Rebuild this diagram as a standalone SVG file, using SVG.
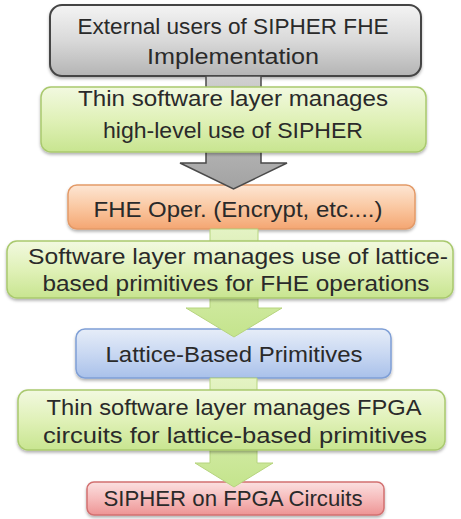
<svg xmlns="http://www.w3.org/2000/svg" width="461" height="519" viewBox="0 0 461 519">
<defs>
<linearGradient id="gGray" x1="0" y1="0" x2="0" y2="1"><stop offset="0" stop-color="#f4f4f4"/><stop offset="0.5" stop-color="#d9d9d9"/><stop offset="1" stop-color="#b4b4b4"/></linearGradient>
<linearGradient id="gGreen" x1="0" y1="0" x2="0" y2="1"><stop offset="0" stop-color="#f2f9e0"/><stop offset="0.5" stop-color="#e0f1b8"/><stop offset="1" stop-color="#c8e590"/></linearGradient>
<linearGradient id="gOrange" x1="0" y1="0" x2="0" y2="1"><stop offset="0" stop-color="#fde6d4"/><stop offset="0.5" stop-color="#fac8a2"/><stop offset="1" stop-color="#f4a672"/></linearGradient>
<linearGradient id="gBlue" x1="0" y1="0" x2="0" y2="1"><stop offset="0" stop-color="#e6edf8"/><stop offset="0.5" stop-color="#c9d8f2"/><stop offset="1" stop-color="#a9c1ea"/></linearGradient>
<linearGradient id="gRed" x1="0" y1="0" x2="0" y2="1"><stop offset="0" stop-color="#fbe0e0"/><stop offset="0.5" stop-color="#f6bcbc"/><stop offset="1" stop-color="#ee9494"/></linearGradient>
<linearGradient id="gArrowGray" x1="0" y1="0" x2="0" y2="1"><stop offset="0" stop-color="#d0d0d0"/><stop offset="1" stop-color="#a2a2a2"/></linearGradient>
<linearGradient id="gArrowGreen" x1="0" y1="0" x2="0" y2="1"><stop offset="0" stop-color="#e4f3c4"/><stop offset="1" stop-color="#c4e48c"/></linearGradient>
<filter id="sh" x="-5%" y="-10%" width="110%" height="130%"><feDropShadow dx="0" dy="2" stdDeviation="1.5" flood-color="#000" flood-opacity="0.3"/></filter>
</defs>
<style>
text{font-family:"Liberation Sans",Arial,sans-serif;font-size:22px;fill:#2a2a2a;text-anchor:middle}
.box{filter:url(#sh)}
.gray{fill:url(#gGray);stroke:#444;stroke-width:2}
.green{fill:url(#gGreen);stroke:#a9c96e;stroke-width:1.5}
.orange{fill:url(#gOrange);stroke:#e39a68;stroke-width:1.5}
.blue{fill:url(#gBlue);stroke:#7f9fd6;stroke-width:1.5}
.red{fill:url(#gRed);stroke:#d27070;stroke-width:1.5}
.agray{fill:url(#gArrowGray);stroke:#4a4a4a;stroke-width:1.5}
.agreen{fill:url(#gArrowGreen);stroke:#b6d47e;stroke-width:1}
</style>
<g id="n1"><rect class="box gray" x="50" y="5" width="371" height="71" rx="12"/>
<text x="233" y="34" textLength="311" lengthAdjust="spacingAndGlyphs">External users of SIPHER FHE</text>
<text x="233" y="64" textLength="172" lengthAdjust="spacingAndGlyphs">Implementation</text></g>
<g id="n3"><rect class="box orange" x="68" y="185" width="347" height="44" rx="9"/>
<text x="238" y="217" textLength="289" lengthAdjust="spacingAndGlyphs">FHE Oper. (Encrypt,  etc....)</text></g>
<g id="n5"><rect class="box blue" x="76" y="329" width="315" height="49" rx="9"/>
<text x="234" y="362" textLength="257" lengthAdjust="spacingAndGlyphs">Lattice-Based Primitives</text></g>
<g id="n7"><rect class="box red" x="87" y="482" width="297" height="33" rx="7"/>
<text x="233" y="506" textLength="259" lengthAdjust="spacingAndGlyphs">SIPHER on FPGA Circuits</text></g>
<g id="connectors">
<path class="agray" d="M206,76 L261,76 L261,163 L287,163 L233.5,189 L180,163 L206,163 Z"/>
<path class="agreen" d="M210,229 L258,229 L258,308 L282,308 L234,337 L186,308 L210,308 Z"/>
<path class="agreen" d="M210,378 L257,378 L257,463 L273,463 L234,487 L195,463 L210,463 Z"/>
</g>
<g id="n2"><rect class="box green" x="41" y="87" width="385" height="65" rx="10"/>
<text x="233" y="106" textLength="310" lengthAdjust="spacingAndGlyphs">Thin software layer manages</text>
<text x="233" y="138" textLength="260" lengthAdjust="spacingAndGlyphs">high-level use of SIPHER</text></g>
<g id="n4"><rect class="box green" x="7" y="241" width="446" height="57" rx="10"/>
<text x="238" y="264" textLength="420" lengthAdjust="spacingAndGlyphs">Software layer manages use of lattice-</text>
<text x="236" y="291" textLength="387" lengthAdjust="spacingAndGlyphs">based primitives for FHE operations</text></g>
<g id="n6"><rect class="box green" x="18" y="390" width="427" height="60" rx="10"/>
<text x="234" y="415" textLength="375" lengthAdjust="spacingAndGlyphs">Thin software layer manages FPGA</text>
<text x="235" y="443" textLength="384" lengthAdjust="spacingAndGlyphs">circuits for lattice-based primitives</text></g>
</svg>
